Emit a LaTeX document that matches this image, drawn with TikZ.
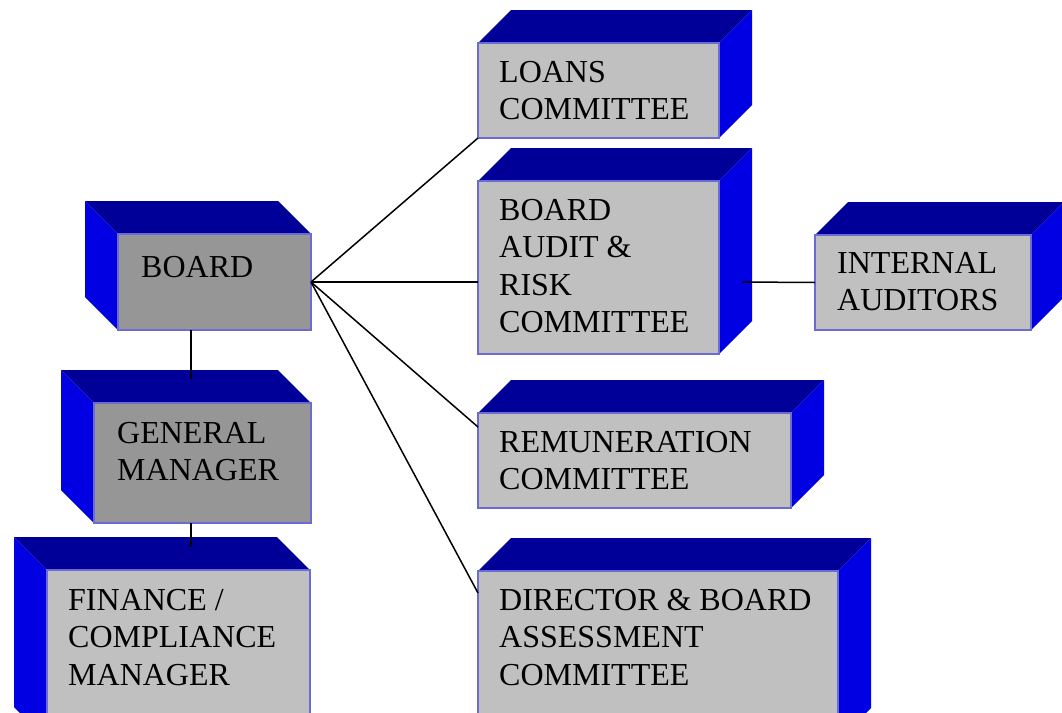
\documentclass[tikz,border=0pt]{standalone}
\usepackage{fontspec}
\setmainfont{Liberation Serif}
\usetikzlibrary{calc}
\definecolor{topblue}{HTML}{000099}
\definecolor{sideblue}{HTML}{0000E3}
\definecolor{edgeblue}{HTML}{6B6BD6}
\definecolor{darkface}{HTML}{969696}
\definecolor{lightface}{HTML}{C0C0C0}
\tikzset{
  frontface/.style={draw=edgeblue, line width=1.5pt, inner sep=0pt, outer sep=0pt, anchor=north west, rectangle},
  topface/.style={fill=topblue},
  sideface/.style={fill=sideblue},
  boxtext/.style={anchor=base west, inner sep=0pt, font=\fontsize{32}{37.5}\selectfont},
  link/.style={draw=black, line width=1.5pt}
}
% box with its side face on the right: name, x, y, width, height, fill
\newcommand\rightbox[6]{%
  \fill[topface] (#2,#3) -- ++(33,-33) -- ++(#4,0) -- ++(-33,33) -- cycle;
  \fill[sideface] (#2+#4,#3) -- ++(33,-33) -- ++(0,#5) -- ++(-33,33) -- cycle;
  \node[frontface, fill=#6, minimum width=#4pt, minimum height=#5pt] (#1) at (#2,#3) {};
}
% box with its side face on the left
\newcommand\leftbox[6]{%
  \fill[topface] (#2,#3) -- ++(-33,-33) -- ++(#4,0) -- ++(33,33) -- cycle;
  \fill[sideface] (#2,#3) -- ++(-33,-33) -- ++(0,#5) -- ++(33,33) -- cycle;
  \node[frontface, fill=#6, minimum width=#4pt, minimum height=#5pt] (#1) at (#2,#3) {};
}
\newcommand\lines[1]{\begin{tabular}[t]{@{}l@{}}#1\end{tabular}}
\begin{document}
\begin{tikzpicture}[x=1pt,y=-1pt]
  \useasboundingbox (0,0) rectangle (1062,712);
  \clip (0,0) rectangle (1062,712);
  \fill[white] (0,0) rectangle (1062,712);

  \rightbox{loans}{478}{43}{241}{95}{lightface}
  \rightbox{audit}{478}{181}{241}{173}{lightface}
  \rightbox{internal}{815}{235}{216}{95}{lightface}
  \rightbox{remun}{478}{413}{313}{95}{lightface}
  \rightbox{director}{478}{571}{360}{170}{lightface}
  \leftbox{board}{118}{234}{193}{96}{darkface}
  \leftbox{gm}{94}{403}{217}{120}{darkface}
  \leftbox{fin}{47}{570}{263}{170}{lightface}

  \node[boxtext] (loans-t) at (499,82) {\lines{LOANS\\COMMITTEE}};
  \node[boxtext] (audit-t) at (499,220) {\lines{BOARD\\AUDIT \&\\RISK\\COMMITTEE}};
  \node[boxtext] (internal-t) at (837,273) {\lines{INTERNAL\\AUDITORS}};
  \node[boxtext] (remun-t) at (499,452) {\lines{REMUNERATION\\COMMITTEE}};
  \node[boxtext] (director-t) at (499,610) {\lines{DIRECTOR \& BOARD\\ASSESSMENT\\COMMITTEE}};
  \node[boxtext] (board-t) at (141,277) {BOARD};
  \node[boxtext] (gm-t) at (117,443) {\lines{GENERAL\\MANAGER}};
  \node[boxtext] (fin-t) at (68,610) {\lines{FINANCE /\\COMPLIANCE\\MANAGER}};

  \coordinate (gmtop) at (191,379);
  \coordinate (fintop) at (191,547);
  \coordinate (auditout) at (742,282);
  \coordinate (remunin) at ($(remun.north west)+(0,14)$);
  \coordinate (directorin) at ($(director.north west)+(0,22)$);

  \draw[link] (board.east) -- (loans.south west);
  \draw[link] (board.east) -- (board.east -| audit.west);
  \draw[link] (board.east) -- (remunin);
  \draw[link] (board.east) -- (directorin);
  \draw[link] (board.south -| gmtop) -- (gmtop);
  \draw[link] (gm.south -| fintop) -- (fintop);
  \draw[link] (auditout) -- (internal.west);
\end{tikzpicture}
\end{document}
